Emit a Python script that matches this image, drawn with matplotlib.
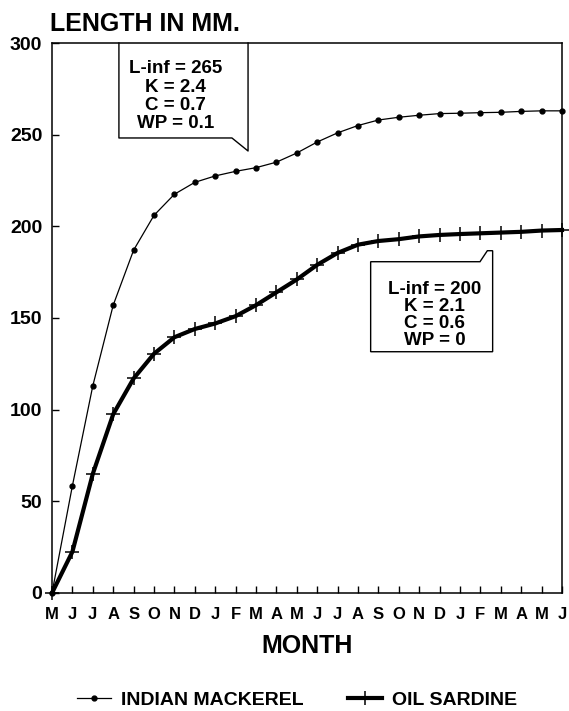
import matplotlib
matplotlib.use('Agg')
import matplotlib.pyplot as plt

plt.rcParams['font.family'] = ['Liberation Sans', 'DejaVu Sans']
plt.rcParams['font.weight'] = 'bold'

months = list('MJJASONDJFMAMJJASONDJFMAMJ')

mackerel = [0, 58.5, 113, 157, 187, 206, 217.5, 224, 227.5, 230, 232, 235, 240,
            246, 251, 255, 258, 259.5, 260.6, 261.5, 261.7, 262, 262.2, 262.7, 263, 263]
sardine = [0, 22.5, 65, 97.5, 117, 130.5, 139.5, 144, 147, 151, 157, 164, 171,
           179, 185.5, 190, 192, 193, 194.5, 195.3, 195.8, 196.2, 196.6, 197, 197.7, 198]

mackerel_params = 'L-inf = 265\nK = 2.4\nC = 0.7\nWP = 0.1'
sardine_params = 'L-inf = 200\nK = 2.1\nC = 0.6\nWP = 0'

fig = plt.figure(figsize=(5.69, 7.11), dpi=100)
ax = fig.add_axes([0.0914, 0.166, 0.8963, 0.7735])

x = range(len(months))
l1, = ax.plot(x, mackerel, color='black', lw=0.9, marker='o', ms=3.5,
              clip_on=False, zorder=3)
l2, = ax.plot(x, sardine, color='black', lw=3, marker='+', ms=10, mew=1.1,
              clip_on=False, zorder=3)

ax.set_xlim(0, 25)
ax.set_ylim(0, 300)
ax.set_xticks(list(x))
ax.set_xticklabels(months, fontsize=12, fontweight='bold')
ax.set_yticks(range(0, 301, 50))
ax.set_yticklabels([str(v) for v in range(0, 301, 50)], fontsize=14, fontweight='bold')
ax.tick_params(axis='x', direction='in', length=5, width=1, pad=10)
ax.tick_params(axis='y', direction='in', length=5, width=1, pad=7)
for s in ax.spines.values():
    s.set_linewidth(1.1)

# callout boxes
mx = [3.28, 3.28, 8.82, 9.61, 9.61]
my = [300, 248.2, 248.2, 241.1, 300]
ax.fill(mx, my, color='white', zorder=1)
ax.plot(mx, my, color='black', lw=1, clip_on=False, zorder=2)
ax.text(6.05, 271, mackerel_params, ha='center', va='center', fontsize=13.5,
        fontweight='bold', linespacing=1.1, zorder=4)

bx = [15.62, 20.98, 21.34, 21.6, 21.6, 15.62, 15.62]
by = [180.7, 180.7, 186.7, 186.7, 131.6, 131.6, 180.7]
ax.fill(bx, by, facecolor='white', edgecolor='black', lw=1, zorder=2)
ax.text(18.75, 151.7, sardine_params, ha='center', va='center', fontsize=13.5,
        fontweight='bold', linespacing=1.0, zorder=4)

fig.text(0.088, 0.966, 'LENGTH IN MM.', fontsize=18, fontweight='bold',
         ha='left', va='center')
fig.text(0.539, 0.0914, 'MONTH', fontsize=18, fontweight='bold',
         ha='center', va='center')

fig.legend([l1, l2], ['INDIAN MACKEREL', 'OIL SARDINE'], loc='center',
           bbox_to_anchor=(0.522, 0.0155), ncol=2, frameon=False, numpoints=1,
           prop={'size': 14, 'weight': 'bold'}, handlelength=1.75,
           handletextpad=0.5, columnspacing=2.3)

fig.savefig('out.png', dpi=100, facecolor='white')
